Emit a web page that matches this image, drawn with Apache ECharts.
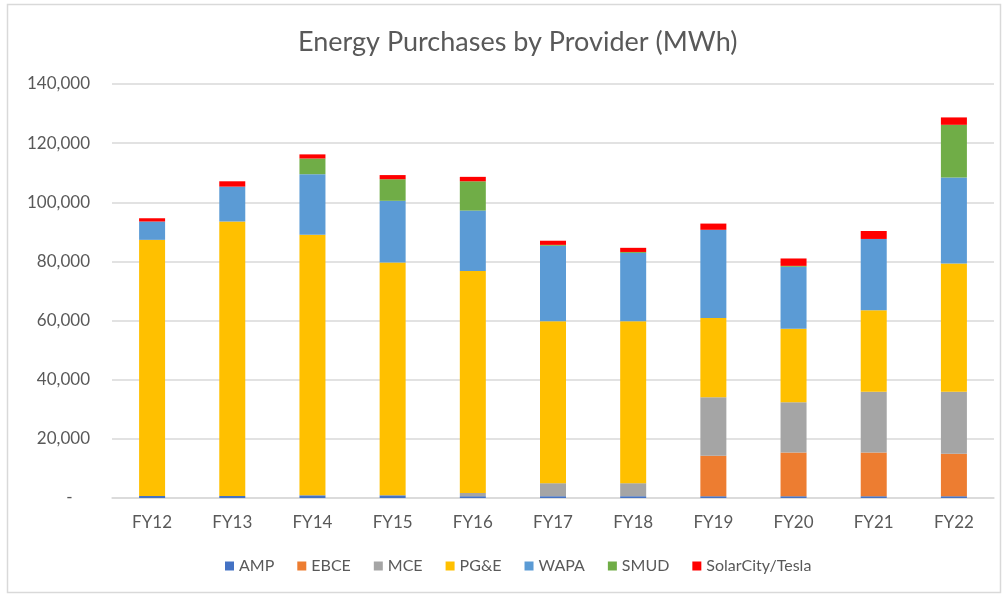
<!DOCTYPE html>
<html>
<head>
<meta charset="utf-8">
<script src="https://cdn.jsdelivr.net/npm/echarts@6/dist/echarts.min.js"></script>
<style>
  html, body { margin: 0; padding: 0; background: #fff; }
  #chart { width: 1006px; height: 595px; }
</style>
</head>
<body>
<div id="chart"></div>
<script>
// data (MWh)
const years = ['FY12', 'FY13', 'FY14', 'FY15', 'FY16', 'FY17', 'FY18', 'FY19', 'FY20', 'FY21', 'FY22']
const amp   = [700, 700, 900, 900, 600, 600, 600, 600, 600, 600, 600]
const ebce  = [0, 0, 0, 0, 0, 0, 0, 13700, 14800, 14800, 14400]
const mce   = [0, 0, 0, 0, 1100, 4400, 4400, 19800, 17000, 20500, 20900]
const pge   = [86600, 92800, 88100, 78700, 75100, 54800, 54800, 26800, 24800, 27600, 43400]
const wapa  = [6200, 11800, 20500, 20900, 20400, 25500, 23100, 29800, 21000, 24100, 29100]
const smud  = [0, 0, 5300, 7300, 9900, 300, 300, 0, 300, 0, 17800]
const solar = [1100, 1800, 1400, 1400, 1500, 1400, 1400, 2100, 2500, 2700, 2500]
const yTicks = [0, 20000, 40000, 60000, 80000, 100000, 120000, 140000]

const font = 'Lato'
const textColor = '#595959'

// series setup
const seriesList = [
  {name: 'AMP', data: amp, color: '#4472C4'},
  {name: 'EBCE', data: ebce, color: '#ED7D31'},
  {name: 'MCE', data: mce, color: '#A5A5A5'},
  {name: 'PG&E', data: pge, color: '#FFC000'},
  {name: 'WAPA', data: wapa, color: '#5B9BD5'},
  {name: 'SMUD', data: smud, color: '#70AD47'},
  {name: 'SolarCity/Tesla', data: solar, color: '#FF0000'}
]

const myChart = echarts.init(document.getElementById('chart'), null, {renderer: 'canvas'})

const option = {
  animation: false,
  color: seriesList.map(s => s.color),
  title: {
    text: 'Energy Purchases by Provider (MWh)',
    left: 293,
    top: 24,
    textStyle: {fontFamily: font, fontSize: 27, fontWeight: 'normal', color: textColor}
  },
  legend: {
    bottom: 16,
    left: 220,
    itemWidth: 9,
    itemHeight: 9,
    itemGap: 23,
    icon: 'rect',
    textStyle: {fontFamily: font, fontSize: 16, color: textColor}
  },
  grid: {left: 112, right: 12, top: 84, bottom: 97},
  xAxis: {
    type: 'category',
    data: years,
    axisTick: {show: false},
    axisLine: {lineStyle: {color: '#D9D9D9', width: 1.5}},
    axisLabel: {fontFamily: font, fontSize: 17, color: textColor, margin: 16}
  },
  yAxis: {
    type: 'value',
    min: yTicks[0],
    max: yTicks[yTicks.length - 1],
    interval: 20000,
    axisLine: {show: false},
    axisTick: {show: false},
    splitLine: {lineStyle: {color: '#D9D9D9', width: 1.5}},
    axisLabel: {
      fontFamily: font, fontSize: 17, color: textColor, margin: 22,
      formatter: v => v === 0 ? '-    ' : v.toLocaleString('en-US')
    }
  },
  series: seriesList.map(s => ({
    name: s.name,
    type: 'bar',
    stack: 'total',
    barWidth: 26,
    data: s.data
  })),
  graphic: [{
    type: 'rect',
    shape: {x: 7.5, y: 4.5, width: 993, height: 588},
    style: {fill: 'none', stroke: '#D9D9D9', lineWidth: 1.5},
    silent: true
  }]
}

myChart.setOption(option)
</script>
</body>
</html>
